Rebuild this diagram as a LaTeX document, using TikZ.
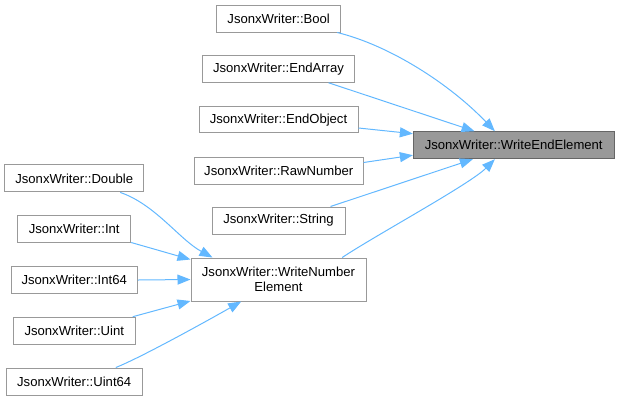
\documentclass[tikz,border=0pt]{standalone}
\usepackage{fontspec}
\setmainfont{Liberation Sans}
\usetikzlibrary{arrows.meta}
\definecolor{edgec}{HTML}{63B8FF}
\definecolor{boxc}{HTML}{999999}
\definecolor{hlborder}{HTML}{666666}
\definecolor{hlc}{HTML}{999999}
\begin{document}
\begin{tikzpicture}[x=1bp,y=-1bp,
  box/.style={draw=boxc, fill=white, line width=1bp, inner sep=0pt,
    font=\fontsize{13.1bp}{15bp}\selectfont, align=center, text=black},
  hl/.style={box, draw=hlborder, fill=hlc},
  edge/.style={draw=edgec, line width=1bp, -{Triangle[length=13bp,width=10bp]}}]
\useasboundingbox (0,0) rectangle (620,400);
% right target
\node[hl, minimum width=200.7bp, minimum height=27bp] (wee) at (513.7,145.2) {JsonxWriter::WriteEndElement};
% middle column
\node[box, minimum width=124bp, minimum height=27bp] (bool) at (278.7,18.5) {JsonxWriter::Bool};
\node[box, minimum width=152.4bp, minimum height=26.5bp] (ea) at (278.5,69) {JsonxWriter::EndArray};
\node[box, minimum width=159bp, minimum height=26.5bp] (eo) at (278.5,119.7) {JsonxWriter::EndObject};
\node[box, minimum width=168.7bp, minimum height=27bp] (rn) at (278.7,170.5) {JsonxWriter::RawNumber};
\node[box, minimum width=133bp, minimum height=27bp] (st) at (278.5,220.5) {JsonxWriter::String};
\node[box, minimum width=175bp, minimum height=43bp] (wne) at (278.5,279.5) {JsonxWriter::WriteNumber\\Element};
% left column
\node[box, minimum width=139bp, minimum height=27bp] (dbl) at (74.2,178.4) {JsonxWriter::Double};
\node[box, minimum width=113bp, minimum height=27bp] (int) at (74.2,229) {JsonxWriter::Int};
\node[box, minimum width=126.3bp, minimum height=27bp] (i64) at (74.2,280) {JsonxWriter::Int64};
\node[box, minimum width=122bp, minimum height=27bp] (uint) at (74.3,330.7) {JsonxWriter::Uint};
\node[box, minimum width=136.3bp, minimum height=27bp] (u64) at (74.2,381.5) {JsonxWriter::Uint64};
% edges to WriteEndElement
\draw[edge] ([shift={(-4,0)}]bool.south east) .. controls +(53,13) and +(-45,-47) .. ([shift={(82,0)}]wee.north west);
\draw[edge] ([shift={(-26.7,0)}]ea.south east) -- ([shift={(61.7,0)}]wee.north west);
\draw[edge] ([shift={(0,8.3)}]eo.east) -- ([shift={(0,-11.5)}]wee.west);
\draw[edge] ([shift={(0,-8)}]rn.east) -- ([shift={(0,10)}]wee.west);
\draw[edge] ([shift={(-15,0)}]st.north east) -- ([shift={(60,0)}]wee.south west);
\draw[edge] ([shift={(-24.3,0)}]wne.north east) .. controls +(33,-22) and +(-25,25) .. ([shift={(82,0)}]wee.south west);
% edges to WriteNumberElement
\draw[edge] ([shift={(46,0)}]dbl.south) .. controls +(35,12) and +(-33,-18) .. ([shift={(22,0)}]wne.north west);
\draw[edge] ([shift={(0,13.5)}]int.east) -- ([shift={(0,-20)}]wne.west);
\draw[edge] (i64.east) -- (wne.west);
\draw[edge] ([shift={(-3,0)}]uint.north east) -- ([shift={(0,21.5)}]wne.west);
\draw[edge] ([shift={(-27,0)}]u64.north east) .. controls +(25,-10) and +(-37,21) .. ([shift={(50.7,0)}]wne.south west);
\end{tikzpicture}
\end{document}
